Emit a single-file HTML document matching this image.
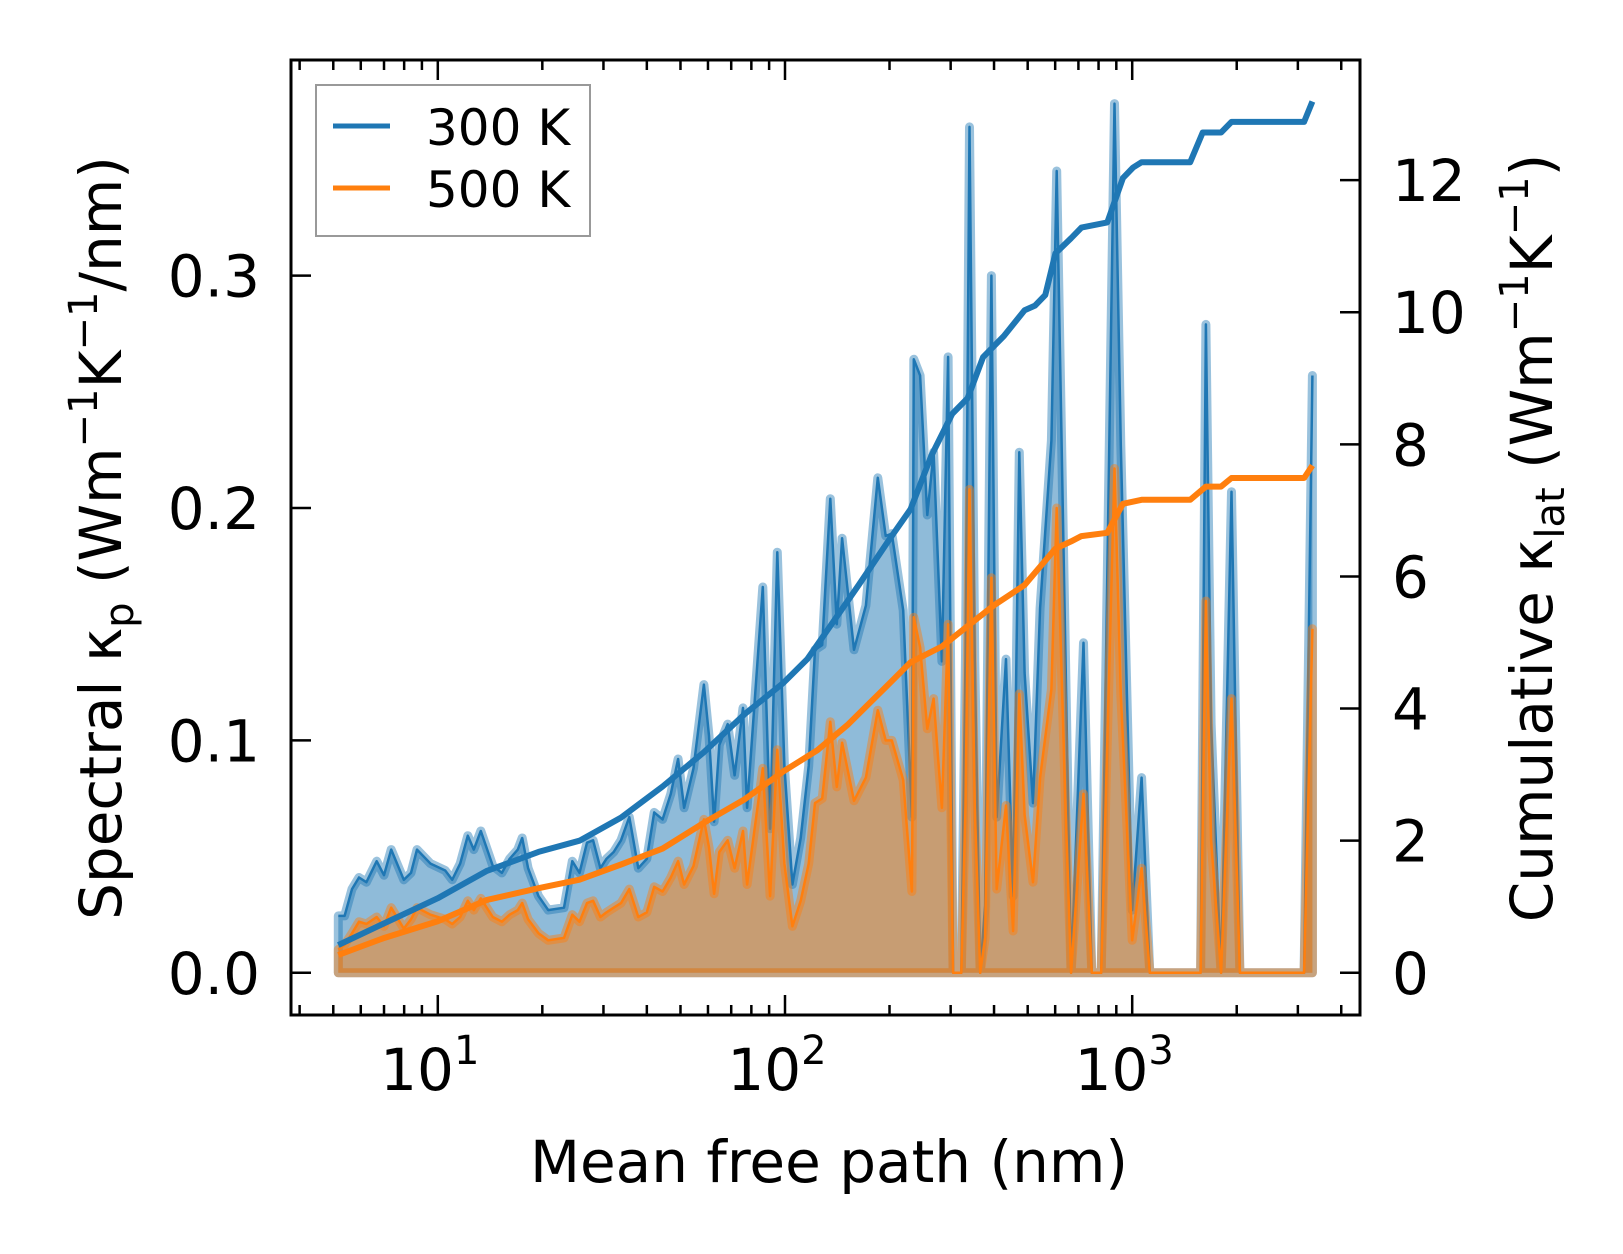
<!DOCTYPE html>
<html><head><meta charset="utf-8">
<style>
html,body{margin:0;padding:0;background:#fff;}
svg{display:block;font-family:"DejaVu Sans","Liberation Sans",sans-serif;}
</style></head>
<body>
<svg id="chart" width="1623" height="1254" viewBox="0 0 1623 1254" xmlns="http://www.w3.org/2000/svg">
<g id="plot"></g>
<g id="axes"></g>
<g id="legend">
  <rect x="316" y="85" width="274" height="151" fill="#fff" fill-opacity="0.8" stroke="#999" stroke-width="2"/>
  <line x1="333" y1="126" x2="390" y2="126" stroke="#1f77b4" stroke-width="5"/>
  <text x="426" y="145" font-size="50">300 K</text>
  <line x1="333" y1="188" x2="390" y2="188" stroke="#ff7f0e" stroke-width="5"/>
  <text x="426" y="207" font-size="50">500 K</text>
</g>
<text x="829" y="1182" font-size="58" text-anchor="middle">Mean free path (nm)</text>
<text transform="translate(121,538) rotate(-90)" font-size="58" text-anchor="middle">Spectral κ<tspan font-size="40" dy="12">p</tspan><tspan dy="-12"> (Wm</tspan><tspan font-size="40" dy="-24">−1</tspan><tspan dy="24">K</tspan><tspan font-size="40" dy="-24">−1</tspan><tspan dy="24">/nm)</tspan></text>
<text transform="translate(1552,538) rotate(-90)" font-size="58" text-anchor="middle">Cumulative κ<tspan font-size="40" dy="12">lat</tspan><tspan dy="-12"> (Wm</tspan><tspan font-size="40" dy="-24">−1</tspan><tspan dy="24">K</tspan><tspan font-size="40" dy="-24">−1</tspan><tspan dy="24">)</tspan></text>
</svg>
<script>
const mfp = [5.17,5.39,5.66,5.93,6.23,6.67,7.00,7.34,7.98,8.37,8.71,9.53,10.5,11.0,11.6,12.2,12.7,13.3,14.4,15.3,16.1,17.0,17.5,18.2,19.5,20.8,23.1,24.4,25.6,26.9,28.0,29.4,30.6,32.1,33.7,35.6,37.8,40.0,42.0,44.4,46.9,49.2,51.2,54.5,58.4,60.4,62.5,64.7,68.4,71.6,75.7,77.8,86.3,90.6,95.0,99.6,105,111,117,122,128,135,141,146,158,171,185,195,203,219,232,235,245,257,268,283,295,305,322,331,340,352,365,377,393,407,433,454,473,490,518,543,585,606,644,667,724,765,814,889,927,1000,1064,1124,1469,1574,1630,1687,1803,1932,2042,3126,3304];
const spec300 = [0.0245,0.0245,0.036,0.041,0.039,0.048,0.042,0.053,0.040,0.043,0.053,0.047,0.044,0.040,0.047,0.059,0.053,0.061,0.046,0.043,0.049,0.053,0.058,0.045,0.033,0.027,0.028,0.048,0.043,0.056,0.057,0.045,0.049,0.052,0.057,0.067,0.045,0.049,0.069,0.066,0.077,0.092,0.071,0.088,0.124,0.102,0.065,0.098,0.107,0.085,0.114,0.071,0.166,0.062,0.181,0.089,0.038,0.058,0.089,0.139,0.141,0.204,0.150,0.187,0.139,0.158,0.213,0.188,0.189,0.156,0.067,0.264,0.257,0.197,0.224,0.134,0.265,0,0,0.136,0.364,0.134,0,0.029,0.300,0.067,0.135,0.033,0.224,0.129,0.073,0.157,0.229,0.345,0.128,0,0.142,0,0,0.374,0.227,0.027,0.084,0,0,0,0.279,0.107,0,0.207,0,0,0.257];
const spec500 = [0.010,0.012,0.017,0.022,0.021,0.024,0.020,0.028,0.019,0.023,0.028,0.025,0.023,0.021,0.024,0.031,0.027,0.032,0.024,0.022,0.025,0.027,0.030,0.023,0.017,0.014,0.015,0.025,0.022,0.030,0.031,0.024,0.026,0.028,0.030,0.036,0.024,0.026,0.037,0.035,0.041,0.048,0.038,0.046,0.066,0.054,0.034,0.052,0.057,0.045,0.061,0.038,0.088,0.033,0.096,0.047,0.020,0.031,0.047,0.073,0.075,0.108,0.080,0.099,0.074,0.084,0.113,0.100,0.100,0.083,0.035,0.153,0.140,0.105,0.118,0.071,0.150,0,0,0.072,0.208,0.071,0,0.015,0.170,0.036,0.072,0.018,0.120,0.068,0.039,0.084,0.122,0.200,0.068,0,0.077,0,0,0.217,0.120,0.014,0.045,0,0,0,0.160,0.057,0,0.118,0,0,0.148];
const cumMfp300 = [5.17,6.95,10,13.8,19.5,25.6,33.7,44.4,58.4,76.7,99,116,133,163,201,230,264,303,336,372,427,490,525,562,601,667,714,848,940,1006,1064,1469,1596,1803,1932,3126,3304];
const cum300 = [0.42,0.74,1.13,1.54,1.83,2.0,2.35,2.82,3.34,3.92,4.39,4.75,5.2,5.87,6.58,7.02,7.83,8.46,8.7,9.32,9.64,10.03,10.1,10.26,10.89,11.12,11.28,11.36,12.03,12.19,12.27,12.27,12.72,12.72,12.88,12.88,13.19];
const cumMfp500 = [5.17,6.95,10,13.8,19.5,25.6,33.7,44.4,58.4,76.7,99,124,152,187,230,283,336,399,490,601,667,714,848,940,1064,1469,1630,1803,1932,3126,3304];
const cum500 = [0.27,0.52,0.78,1.1,1.28,1.41,1.64,1.88,2.27,2.63,3.05,3.37,3.76,4.23,4.7,4.94,5.25,5.56,5.87,6.42,6.53,6.61,6.66,7.1,7.16,7.16,7.36,7.36,7.49,7.49,7.68];
const leftTicks = [0.0,0.1,0.2,0.3];
const leftTickLabels = ["0.0","0.1","0.2","0.3"];
const rightTicks = [0,2,4,6,8,10,12];
const xDecades = [1,2,3];

const NS = "http://www.w3.org/2000/svg";
const L=291, R=1360, T=60, B=1015;
function X(v){return 437.8+347.2*(Math.log10(v)-1);}
function Y(v){return 972.8-2324*v;}
function Y2(v){return 972.8-66.06*v;}
function mk(tag, attrs, parent){const e=document.createElementNS(NS,tag);for(const k in attrs)e.setAttribute(k,attrs[k]);parent.appendChild(e);return e;}
const plot=document.getElementById('plot'), axes=document.getElementById('axes');
const cp=mk('clipPath',{id:'clip'},plot);
mk('rect',{x:L,y:T,width:R-L,height:B-T},cp);
const pg=mk('g',{'clip-path':'url(#clip)'},plot);

function spectral(xs, ys, color, name){
  let line=xs.map((x,i)=>(i?'L':'M')+X(x).toFixed(1)+','+Y(ys[i]).toFixed(1)).join('');
  let area=line+'L'+X(xs[xs.length-1]).toFixed(1)+','+Y(0)+'L'+X(xs[0]).toFixed(1)+','+Y(0)+'Z';
  const a=mk('path',{d:area,fill:color,'fill-opacity':0.5,stroke:'none'},pg);
  
  
  const h=mk('path',{d:area,fill:'none',stroke:color,'stroke-opacity':0.45,'stroke-width':9,'stroke-linejoin':'round'},pg);
  
  
  const l=mk('path',{d:line,fill:'none',stroke:color,'stroke-width':2.5,'stroke-linejoin':'round'},pg);
  
  
}
spectral(mfp,spec300,'#1f77b4','spectral-300k');
spectral(mfp,spec500,'#ff7f0e','spectral-500k');
function cumLine(xs,ys,color,name){
  const d=xs.map((x,i)=>(i?'L':'M')+X(x).toFixed(1)+','+Y2(ys[i]).toFixed(1)).join('');
  const p=mk('path',{d:d,fill:'none',stroke:color,'stroke-width':6,'stroke-linejoin':'round'},pg);
  
  
}
cumLine(cumMfp300,cum300,'#1f77b4','cumulative-300k');
cumLine(cumMfp500,cum500,'#ff7f0e','cumulative-500k');

const fr=mk('rect',{x:L,y:T,width:R-L,height:B-T,fill:'none',stroke:'#000','stroke-width':3},axes);


for(let dec=0;dec<=3;dec++){
  for(let m=1;m<=9;m++){
    const v=m*Math.pow(10,dec); const x=X(v);
    if(x<L||x>R) continue;
    const len=m===1?20:10;
    mk('line',{x1:x,y1:B,x2:x,y2:B-len,stroke:'#000','stroke-width':2.5},axes);
    mk('line',{x1:x,y1:T,x2:x,y2:T+len,stroke:'#000','stroke-width':2.5},axes);
  }
}
xDecades.forEach(d=>{
  const t=mk('text',{x:X(Math.pow(10,d))-8,y:1090,'font-size':58,'text-anchor':'middle'},axes);
  
  
  t.textContent='10';
  const s=mk('tspan',{'font-size':40,dy:-26},t); s.textContent=String(d);
});
leftTicks.forEach((v,i)=>{
  const y=Y(v);
  mk('line',{x1:L,y1:y,x2:L+20,y2:y,stroke:'#000','stroke-width':2.5},axes);
  const t=mk('text',{x:260,y:y+21,'font-size':58,'text-anchor':'end'},axes);
  
  
  t.textContent=leftTickLabels[i];
});
rightTicks.forEach(v=>{
  const y=Y2(v);
  mk('line',{x1:R,y1:y,x2:R-20,y2:y,stroke:'#000','stroke-width':2.5},axes);
  const t=mk('text',{x:1392,y:y+21,'font-size':58},axes);
  
  
  t.textContent=String(v);
});
</script>
</body></html>
